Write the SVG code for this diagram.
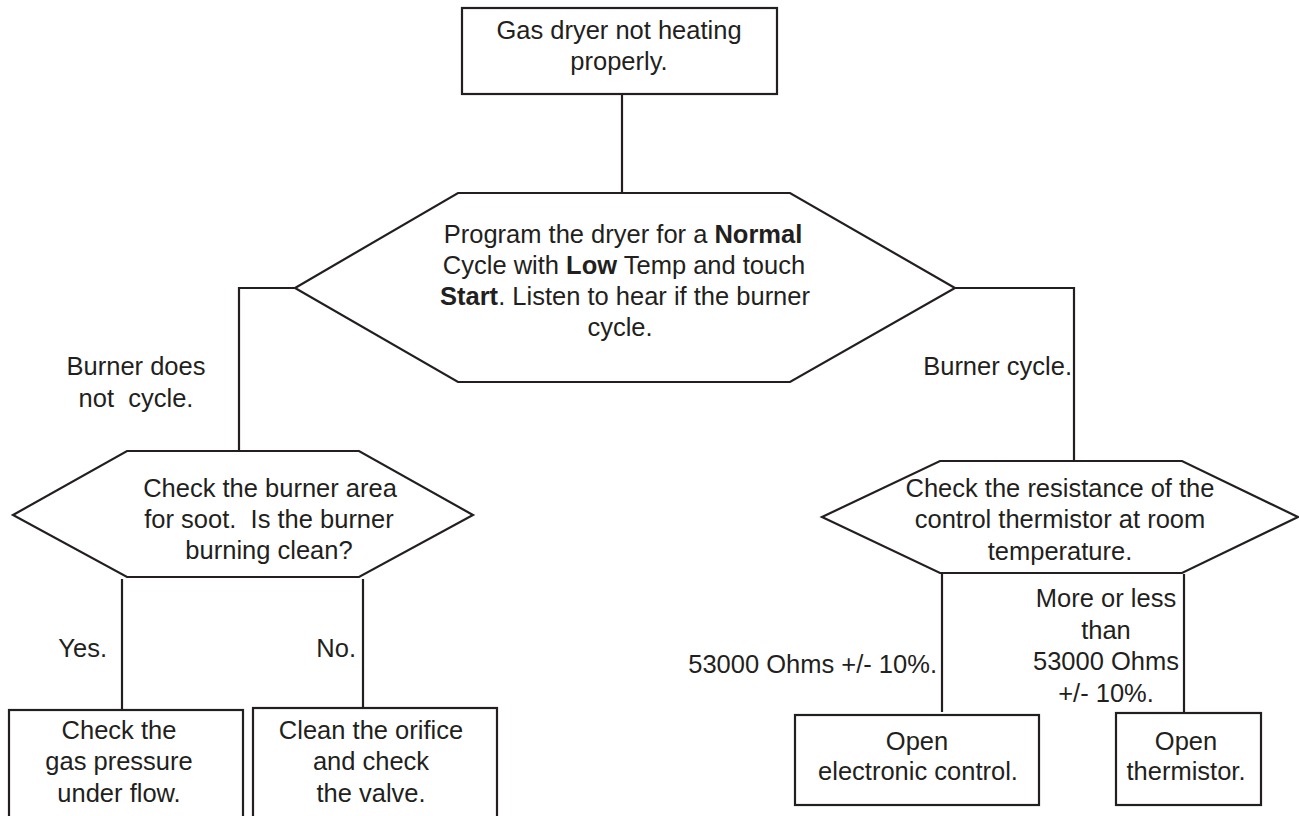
<svg xmlns="http://www.w3.org/2000/svg" width="1299" height="816" viewBox="0 0 1299 816">
<style>
.s{fill:#fff;stroke:#231f20;stroke-width:2.2;stroke-linejoin:miter}
.c{fill:none;stroke:#231f20;stroke-width:2.2}
text{font-family:"Liberation Sans",Arial,Helvetica,sans-serif;font-size:25.5px;fill:#231f20}
.m{text-anchor:middle}
.e{text-anchor:end}
.b{font-weight:bold}
.p{white-space:pre}
</style>
<rect width="1299" height="816" fill="#fff"/>
<g id="connectors">
<path class="c" d="M622,94V193"/>
<path class="c" d="M295,288H239V451"/>
<path class="c" d="M955,288H1074V461"/>
<path class="c" d="M122,579V710"/>
<path class="c" d="M363,579V708"/>
<path class="c" d="M942,574V712"/>
<path class="c" d="M1184,574V713"/>
</g>
<g id="start">
<rect class="s" x="462" y="8" width="315" height="86"/>
<text class="m" x="619" y="39">Gas dryer not heating</text>
<text class="m" x="619" y="70">properly.</text>
</g>
<g id="program">
<polygon class="s" points="458,193 790,193 955,288 790,382 458,382 295,288"/>
<text class="m" x="623" y="243">Program the dryer for a <tspan class="b">Normal</tspan></text>
<text class="m" x="624" y="274">Cycle with <tspan class="b">Low</tspan> Temp and touch</text>
<text class="m" x="625" y="305"><tspan class="b">Start</tspan>. Listen to hear if the burner</text>
<text class="m" x="620" y="336">cycle.</text>
</g>
<g id="label-not-cycle">
<text class="m" x="136" y="375">Burner does</text>
<text class="m p" x="136" y="407">not  cycle.</text>
</g>
<g id="label-cycle">
<text class="e" x="1072" y="375">Burner cycle.</text>
</g>
<g id="soot">
<polygon class="s" points="127,451 359,451 473,515 359,577 127,577 13,515"/>
<text class="m" x="270" y="497">Check the burner area</text>
<text class="m p" x="269" y="528">for soot.  Is the burner</text>
<text class="m" x="269" y="559">burning clean?</text>
</g>
<g id="thermistor-check">
<polygon class="s" points="940,461 1182,461 1298,517 1182,573 940,573 822,517"/>
<text class="m" x="1060" y="497">Check the resistance of the</text>
<text class="m" x="1060" y="528">control thermistor at room</text>
<text class="m" x="1060" y="560">temperature.</text>
</g>
<g id="label-yes"><text class="e" x="107" y="657">Yes.</text></g>
<g id="label-no"><text class="e" x="356" y="657">No.</text></g>
<g id="gas-pressure">
<rect class="s" x="9" y="710" width="234" height="120"/>
<text class="m" x="119" y="739">Check the</text>
<text class="m" x="119" y="770">gas pressure</text>
<text class="m" x="119" y="802">under flow.</text>
</g>
<g id="clean-orifice">
<rect class="s" x="253" y="708" width="244" height="120"/>
<text class="m" x="371" y="739">Clean the orifice</text>
<text class="m" x="371" y="770">and check</text>
<text class="m" x="371" y="802">the valve.</text>
</g>
<g id="label-ok">
<text class="e" x="937" y="673">53000 Ohms +/- 10%.</text>
</g>
<g id="label-out">
<text class="m" x="1106" y="607">More or less</text>
<text class="m" x="1106" y="639">than</text>
<text class="m" x="1106" y="670">53000 Ohms</text>
<text class="m" x="1106" y="702">+/- 10%.</text>
</g>
<g id="open-control">
<rect class="s" x="795" y="715" width="244" height="90"/>
<text class="m" x="917" y="750">Open</text>
<text class="m" x="918" y="780">electronic control.</text>
</g>
<g id="open-thermistor">
<rect class="s" x="1116" y="713" width="145" height="92"/>
<text class="m" x="1186" y="750">Open</text>
<text class="m" x="1186" y="780">thermistor.</text>
</g>
</svg>
